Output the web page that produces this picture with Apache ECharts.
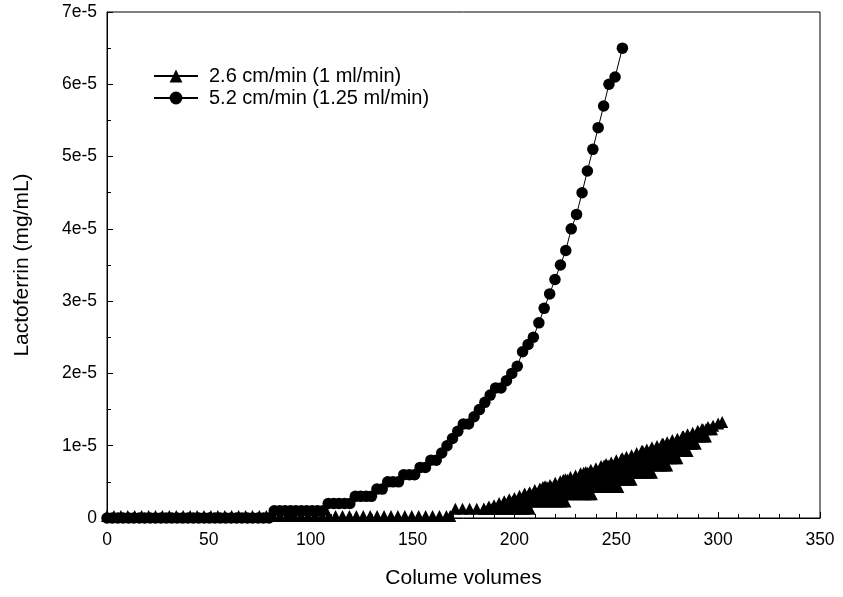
<!DOCTYPE html>
<html><head><meta charset="utf-8">
<script src="https://cdn.jsdelivr.net/npm/echarts@6/dist/echarts.min.js"></script>
<style>html,body{margin:0;padding:0;background:#fff}#c{width:843px;height:597px}</style>
</head><body><div id="c"></div>
<script>
// All concentrations below are in units of 1e-6 mg/mL
const UNIT = 1e-6;
const seriesNames = ['2.6 cm/min (1 ml/min)', '5.2 cm/min (1.25 ml/min)'];

// ---- 5.2 cm/min (circles) ----
const circleX = [0, 2.6, 5.3, 7.9, 10.6, 13.2, 15.9, 18.5, 21.2, 23.8, 26.5, 29.1, 31.8, 34.4, 37.1, 39.7, 42.4, 45, 47.7, 50.3,
  53, 55.6, 58.3, 60.9, 63.6, 66.2, 68.9, 71.5, 74.2, 76.8, 79.5, 82.1, 84.8, 87.4, 90.1, 92.7, 95.4, 98, 100.7, 103.3,
  106, 108.6, 111.3, 113.9, 116.6, 119.2, 121.9, 124.5, 127.2, 129.8, 132.5, 135.1, 137.8, 140.4, 143.1, 145.7, 148.4, 151, 153.7, 156.3,
  159, 161.6, 164.3, 166.9, 169.6, 172.2, 174.9, 177.5, 180.2, 182.8, 185.5, 188.1, 190.8, 193.4, 196.1, 198.7, 201.4, 204, 206.7, 209.3,
  212, 214.6, 217.3, 219.9, 222.6, 225.2, 227.9, 230.5, 233.2, 235.8, 238.5, 241.1, 243.8, 246.4, 249.4, 253];
const circleY = [0, 0, 0, 0, 0, 0, 0, 0, 0, 0, 0, 0, 0, 0, 0, 0, 0, 0, 0, 0,
  0, 0, 0, 0, 0, 0, 0, 0, 0, 0, 0, 1, 1, 1, 1, 1, 1, 1, 1, 1,
  1, 2, 2, 2, 2, 2, 3, 3, 3, 3, 4, 4, 5, 5, 5, 6, 6, 6, 7, 7,
  8, 8, 9, 10, 11, 12, 13, 13, 14, 15, 16, 17, 18, 18, 19, 20, 21, 23, 24, 25,
  27, 29, 31, 33, 35, 37, 40, 42, 45, 48, 51, 54, 57, 60, 61, 65];

// ---- 2.6 cm/min (triangles): readings grouped by level ----
const triLevels = [0, 1, 2, 3, 4, 5, 6, 7, 8, 9, 10, 11, 12];
const triLevelX = [
  [0, 3.4, 6.8, 10.2, 13.6, 17, 20.4, 23.8, 27.2, 30.6, 34, 37.4, 40.8, 44.2, 47.6, 51, 54.4, 57.8, 61.2, 64.6, 68, 71.4, 74.8, 78.2, 81.6,
   85, 88.4, 91.8, 95.2, 98.6, 102, 105.4, 108.8, 112.2, 115.6, 119, 122.4, 125.8, 129.2, 132.6, 136, 139.4, 142.8, 146.2, 149.6, 153, 156.4, 159.8, 163.2, 166.6, 168.5],
  [171, 174.5, 178, 181.5, 185, 187, 189, 191, 193, 195, 197, 199, 201, 203, 205, 207.5],
  [195, 197, 199, 201, 203, 205, 207, 209, 211, 213, 215, 217, 219, 221, 223, 225],
  [205, 207, 209, 211, 213, 215, 217, 219, 221, 223, 225, 227, 229, 231, 233, 235, 237, 238],
  [214, 216, 218, 220, 222, 224, 226, 228, 230, 232, 234, 236, 238, 240, 242, 244, 246, 248, 250, 251],
  [224, 226, 228, 230, 232, 234, 236, 238, 240, 242, 244, 246, 248, 250, 252, 254, 256, 257.5],
  [234, 236, 238, 240, 242, 244, 246, 248, 250, 252, 254, 256, 258, 260, 262, 264, 266, 267.5],
  [244, 246, 248, 250, 252, 254, 256, 258, 260, 262, 264, 266, 268, 270, 272, 274, 275],
  [253, 255, 257, 259, 261, 263, 265, 267, 269, 271, 273, 275, 277, 279, 280],
  [263, 265, 267, 269, 271, 273, 275, 277, 279, 281, 283, 285],
  [273, 275, 277, 279, 281, 283, 285, 287, 289],
  [283, 285, 287, 289, 291, 293, 294],
  [292, 294, 296, 297]
];
const triRampX = [185, 187.5, 190, 192.5, 195, 197.5, 200, 202.5, 205, 207.5, 210, 212.5, 215, 217.5, 220, 222.5, 225, 227.5, 230, 232.5,
  235, 237.5, 240, 242.5, 245, 247.5, 250, 252.5, 255, 257.5, 260, 262.5, 265, 267.5, 270, 272.5, 275, 277.5, 280, 282.5,
  285, 287.5, 290, 292.5, 295, 297.5, 300, 302];
const triRampY = [1.0, 1.3, 1.5, 1.8, 2.0, 2.3, 2.5, 2.8, 3.1, 3.3, 3.6, 3.8, 4.1, 4.3, 4.6, 4.8, 5.1, 5.4, 5.6, 5.9,
  6.1, 6.4, 6.6, 6.9, 7.2, 7.4, 7.7, 7.9, 8.2, 8.4, 8.7, 9.0, 9.2, 9.5, 9.7, 10.0, 10.2, 10.5, 10.7, 11.0,
  11.3, 11.5, 11.8, 12.0, 12.3, 12.5, 12.8, 13.0];

// axis settings
const xMin = 0, xMax = 350, xStep = 50;
const yMin = 0, yMax = 7e-5, yStep = 1e-5;

// build data
const triData = [];
function addLevel(i) { triLevelX[i].forEach(x => triData.push([x, triLevels[i] * UNIT])); }
addLevel(0); addLevel(1);
triRampX.forEach((x, i) => triData.push([x, triRampY[i] * UNIT]));
for (let i = 2; i < triLevels.length; i++) addLevel(i);
const circData = circleX.map((x, i) => [x, circleY[i] * UNIT]);

const FONT = 'Liberation Sans, Arial, sans-serif';
const chart = echarts.init(document.getElementById('c'), null, {renderer: 'canvas'});
chart.setOption({
  animation: false,
  backgroundColor: '#fff',
  grid: {left: 107, right: 23, top: 12, bottom: 79, show: true, borderColor: '#000', borderWidth: 1, backgroundColor: 'transparent'},
  legend: {
    orient: 'vertical', left: 148, top: 61, itemGap: 2, itemWidth: 44, itemHeight: 16,
    data: seriesNames,
    textStyle: {fontFamily: FONT, fontSize: 20, color: '#000', padding: [0, 0, 0, 6]}
  },
  xAxis: {
    type: 'value', min: xMin, max: xMax, interval: xStep,
    name: 'Colume volumes', nameLocation: 'middle', nameGap: 50,
    nameTextStyle: {fontFamily: FONT, fontSize: 21, color: '#000'},
    axisLine: {show: true, lineStyle: {color: '#000', width: 1}},
    axisTick: {show: true, inside: true, length: 6, lineStyle: {color: '#000'}},
    minorTick: {show: true, splitNumber: 5, length: 4, lineStyle: {color: '#000'}},
    splitLine: {show: false},
    axisLabel: {fontFamily: FONT, fontSize: 17.5, color: '#000', margin: 13}
  },
  yAxis: {
    type: 'value', min: yMin, max: yMax, interval: yStep,
    name: 'Lactoferrin (mg/mL)', nameLocation: 'middle', nameGap: 74,
    nameTextStyle: {fontFamily: FONT, fontSize: 21, color: '#000'},
    axisLine: {show: true, lineStyle: {color: '#000', width: 1}},
    axisTick: {show: true, inside: true, length: 6, lineStyle: {color: '#000'}},
    minorTick: {show: true, splitNumber: 2, length: 4, lineStyle: {color: '#000'}},
    splitLine: {show: false},
    axisLabel: {fontFamily: FONT, fontSize: 17.5, color: '#000', margin: 10,
      formatter: v => v === 0 ? '0' : Math.round(v / 1e-5) + 'e-5'}
  },
  series: [
    {
      name: seriesNames[0], type: 'line', data: triData,
      symbol: 'triangle', symbolSize: 12, symbolOffset: [0, -2], showAllSymbol: true,
      lineStyle: {color: '#000', width: 1}, itemStyle: {color: '#000', borderWidth: 0},
      emphasis: {disabled: true}
    },
    {
      name: seriesNames[1], type: 'line', data: circData,
      symbol: 'circle', symbolSize: 11.5, showAllSymbol: true,
      lineStyle: {color: '#000', width: 1}, itemStyle: {color: '#000', borderWidth: 0},
      emphasis: {disabled: true}
    }
  ]
});
</script>
</body></html>
